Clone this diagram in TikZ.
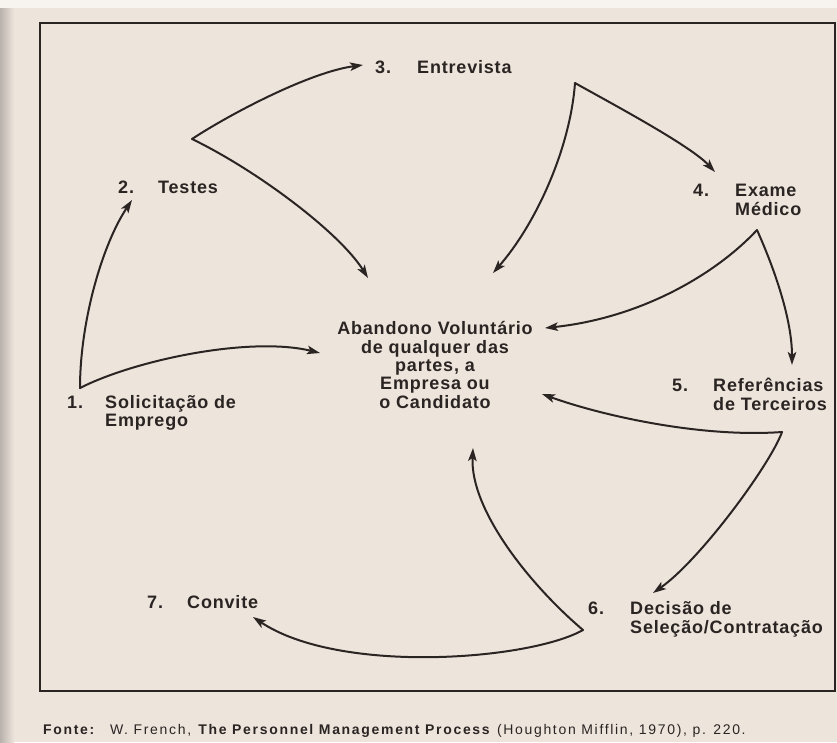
\documentclass[tikz,border=0pt]{standalone}
\usepackage{fontspec}
\setmainfont{Liberation Sans}
\newfontfamily\labfont[LetterSpace=4.5]{Liberation Sans}
\newfontfamily\capfont[LetterSpace=12]{Liberation Sans}
\usetikzlibrary{arrows.meta}
\definecolor{paper}{RGB}{237,228,220}
\definecolor{ink}{RGB}{42,37,35}
\begin{document}
\begin{tikzpicture}[x=1pt,y=-1pt,
  lab/.style={font=\labfont\bfseries\fontsize{18}{18}\selectfont, text=ink, inner sep=0pt, anchor=base west},
  mid/.style={font=\labfont\bfseries\fontsize{18}{18.2}\selectfont, text=ink, inner sep=0pt, anchor=base},
  flow/.style={draw=ink, line width=2pt, line cap=round, -{Stealth[length=13pt,width=8.5pt,inset=3pt]}}]
\useasboundingbox (0,0) rectangle (837,742);
\fill[paper] (0,0) rectangle (837,742);
\fill[white!55!paper] (0,0) rectangle (837,8);
\shade[left color=black!22!paper, right color=paper] (0,8) rectangle (14,742);
\draw[ink, line width=1.8pt] (40,23) rectangle (835,691);

% labels
\node[lab] (n1) at (67,408.6) {\begin{tabular}[t]{@{}p{38pt}@{}l@{}}1. & Solicitação de\\ & Emprego\end{tabular}};
\node[lab] (n2) at (118,193.6) {\begin{tabular}[t]{@{}p{40pt}@{}l@{}}2. & Testes\end{tabular}};
\node[lab] (n3) at (375,73.6) {\begin{tabular}[t]{@{}p{42pt}@{}l@{}}3. & Entrevista\end{tabular}};
\node[lab] (n4) at (693,196.6) {\begin{tabular}[t]{@{}p{42pt}@{}l@{}}4. & Exame\\ & Médico\end{tabular}};
\node[lab] (n5) at (672,391.6) {\begin{tabular}[t]{@{}p{41pt}@{}l@{}}5. & Referências\\ & de Terceiros\end{tabular}};
\node[lab] (n6) at (588,614.6) {\begin{tabular}[t]{@{}p{42pt}@{}l@{}}6. & Decisão de\\ & Seleção/Contratação\end{tabular}};
\node[lab] (n7) at (147,608.6) {\begin{tabular}[t]{@{}p{40pt}@{}l@{}}7. & Convite\end{tabular}};
\node[mid] (c) at (435,334.6) {\begin{tabular}[t]{@{}c@{}}Abandono Voluntário\\ de qualquer das\\ partes, a\\ Empresa ou\\ o Candidato\end{tabular}};

% caption
\node[font=\capfont\fontsize{14}{16}\selectfont, text=ink, inner sep=0pt, anchor=base west] (cap) at (43,734)
  {\textbf{Fonte:}\quad W. French, \textbf{The Personnel Management Process} (Houghton Mifflin, 1970), p. 220.};

% cusps and tips
\coordinate (p1) at (80,388);  \coordinate (t2) at (132,200); \coordinate (tc1) at (320,353);
\coordinate (p2) at (192,139); \coordinate (t3) at (363,65);  \coordinate (tc2) at (368,278);
\coordinate (p3) at (575,83);  \coordinate (t4) at (715,172); \coordinate (tc3) at (493,273);
\coordinate (p4) at (757,230); \coordinate (t5) at (792,365); \coordinate (tc4) at (545,328);
\coordinate (p5) at (782,432); \coordinate (tc5) at (542,394); \coordinate (t6) at (653,593);
\coordinate (p6) at (583,630); \coordinate (tc6) at (473,448); \coordinate (t7) at (253,617);

\draw[flow] (p1) .. controls (80,322) and (102,245) .. (t2);
\draw[flow] (p1) .. controls (135,360) and (250,336) .. (tc1);
\draw[flow] (p2) .. controls (230,114) and (310,72) .. (t3);
\draw[flow] (p2) .. controls (258,171) and (340,233) .. (tc2);
\draw[flow] (p3) .. controls (605,100) and (690,145) .. (t4);
\draw[flow] (p3) .. controls (570,150) and (535,225) .. (tc3);
\draw[flow] (p4) .. controls (775,270) and (792,320) .. (t5);
\draw[flow] (p4) .. controls (715,275) and (640,318) .. (tc4);
\draw[flow] (p5) .. controls (700,438) and (600,415) .. (tc5);
\draw[flow] (p5) .. controls (770,465) and (700,560) .. (t6);
\draw[flow] (p6) .. controls (530,585) and (470,510) .. (tc6);
\draw[flow] (p6) .. controls (530,660) and (340,675) .. (t7);
\end{tikzpicture}
\end{document}
